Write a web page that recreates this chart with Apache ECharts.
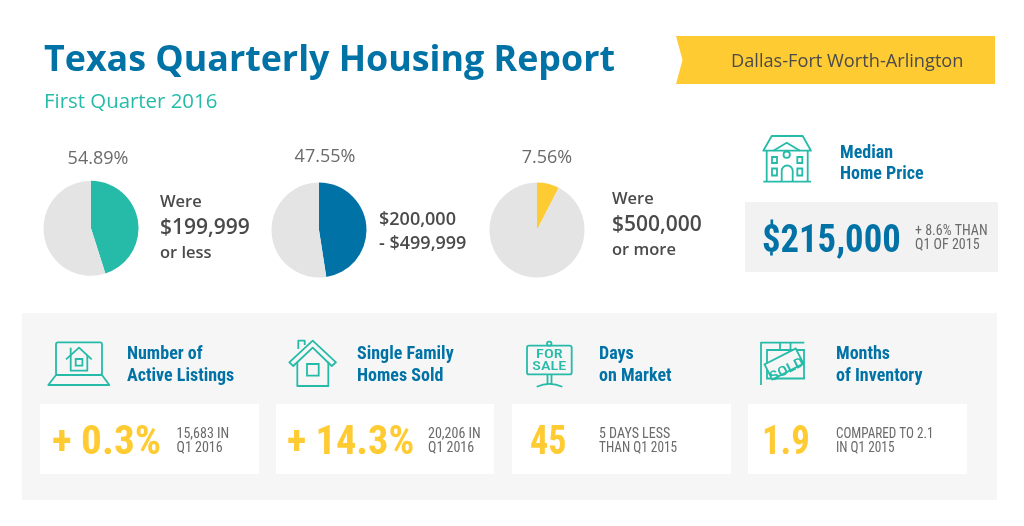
<!DOCTYPE html>
<html><head><meta charset="utf-8">
<style>html,body{margin:0;padding:0;background:#fff}#c{width:1024px;height:526px}</style>
<script src="https://cdn.jsdelivr.net/npm/echarts@6/dist/echarts.min.js"></script>
</head><body><div id="c"></div>
<script>
var title = 'Texas Quarterly Housing Report';
var subtitle = 'First Quarter 2016';
var region = 'Dallas-Fort Worth-Arlington';
var shareLabels = ['54.89%', '47.55%', '7.56%'];
var sliceShares = [45.11, 47.55, 7.56];
var restShares = [54.89, 52.45, 92.44];
var medianPrice = '$215,000';
var bigValues = ['+ 0.3%', '+ 14.3%', '45', '1.9'];
var headingsA = ['Number of', 'Single Family', 'Days', 'Months'];
var headingsB = ['Active Listings', 'Homes Sold', 'on Market', 'of Inventory'];
var notesA = ['15,683 IN', '20,206 IN', '5 DAYS LESS', 'COMPARED TO 2.1'];
var notesB = ['Q1 2016', 'Q1 2016', 'THAN Q1 2015', 'IN Q1 2015'];

var TEAL='#26BBA8', BLUE='#0072A6', YEL='#FFCB33', GREY='#E4E4E4', DARK='#4A4A4A', MID='#6A6A6A';
var OS='"Open Sans"', NAR='"Roboto Condensed",Roboto';

function T(x,y,s,font,size,weight,color,align,sx){
  var k=0.8;
  return {type:'text',x:x,y:y-k*size,scaleX:sx||1,silent:true,style:{text:s,x:0,y:0,font:weight+' '+size+'px '+font,fill:color,textAlign:align||'left',textBaseline:'top'}};
}
function R(x,y,w,h,fill,r){return {type:'rect',silent:true,shape:{x:x,y:y,width:w,height:h,r:r||0},style:{fill:fill}};}
function line(pts,close,lw){return {type:close?'polygon':'polyline',silent:true,shape:{points:pts},style:{fill:'none',stroke:TEAL,lineWidth:lw||1.8,lineJoin:'round'}};}
function box(x,y,w,h,r){return {type:'rect',silent:true,shape:{x:x,y:y,width:w,height:h,r:r||0},style:{fill:'none',stroke:TEAL,lineWidth:1.8}};}

var g=[];
g.push(R(22,313,975,187,'#F6F6F6'));
g.push(R(745,202,253,70,'#F2F2F2'));
[[40,219],[276,218],[512,219],[748,219]].forEach(function(c){g.push(R(c[0],404,c[1],70,'#FFFFFF'));});
g.push({type:'polygon',silent:true,shape:{points:[[676,36],[995,36],[995,84],[676,84],[682.5,60]]},style:{fill:YEL}});

g.push(T(44,71.5,title,OS,35.8,700,BLUE));
g.push(T(44,108.5,subtitle,OS,20.4,400,TEAL));
g.push(T(731,67,region,OS,18.2,400,DARK));

g.push(T(98,164.5,shareLabels[0],OS,18,400,MID,'center'));
g.push(T(325,162.5,shareLabels[1],OS,18,400,MID,'center'));
g.push(T(547,163.5,shareLabels[2],OS,18,400,MID,'center'));

g.push(T(160,207,'Were',OS,16.5,600,DARK));
g.push(T(160,234,'$199,999',OS,21,600,DARK));
g.push(T(160,258,'or less',OS,16.5,600,DARK));
g.push(T(379,225,'$200,000',OS,18,600,DARK));
g.push(T(379,249,'- $499,999',OS,18,600,DARK));
g.push(T(612,204,'Were',OS,16.5,600,DARK));
g.push(T(612,231,'$500,000',OS,21,600,DARK));
g.push(T(612,255,'or more',OS,16.5,600,DARK));

g.push(T(840,158.5,'Median',NAR,18,700,BLUE));
g.push(T(840,179.5,'Home Price',NAR,18,700,BLUE));
g.push(T(762,253.5,medianPrice,NAR,38,700,BLUE,'left',0.965));
g.push(T(915,236,'+ 8.6% THAN',NAR,14,400,MID));
g.push(T(915,250,'Q1 OF 2015',NAR,14,400,MID));

var headX=[127,357,599,836], bigX=[52,287,530,762], noteX=[176.5,428,599,836];
var bigSx=[1.03,1.01,0.9,0.92], noteSxA=[1,1,1,0.94], noteSxB=[1,1,0.95,0.95];
for(var i=0;i<4;i++){
  g.push(T(headX[i],360,headingsA[i],NAR,18,700,BLUE));
  g.push(T(headX[i],381.5,headingsB[i],NAR,18,700,BLUE));
  g.push(T(bigX[i],455.5,bigValues[i],NAR,40,700,YEL,'left',bigSx[i]));
  g.push(T(noteX[i],438.5,notesA[i],NAR,14,400,MID,'left',noteSxA[i]));
  g.push(T(noteX[i],452.5,notesB[i],NAR,14,400,MID,'left',noteSxB[i]));
}

// median house icon
g.push(line([[771.7,136],[802.7,136],[811,150.7],[763.3,150.7]],true));
g.push(line([[766.7,150.7],[766.7,181.7]])); g.push(line([[807.7,150.7],[807.7,181.7]]));
g.push(line([[763.3,181.7],[811,181.7]]));
g.push(line([[773.3,150.7],[786.7,142.7],[800,150.7]]));
g.push({type:'circle',silent:true,shape:{cx:786.7,cy:154.7,r:3.2},style:{fill:'none',stroke:TEAL,lineWidth:1.8}});
g.push({type:'arc',silent:true,shape:{cx:787.2,cy:171,r:5.5,startAngle:Math.PI,endAngle:2*Math.PI,clockwise:true},style:{fill:'none',stroke:TEAL,lineWidth:1.8}});
g.push(line([[781.7,171],[781.7,181.7]])); g.push(line([[792.7,171],[792.7,181.7]]));
g.push(box(772,157,5,6)); g.push(box(797.3,157,5,6)); g.push(box(772,168.5,5,7)); g.push(box(797.3,168.5,5,7));

// laptop
g.push(box(56,342.3,46,32.7,2));
g.push(line([[56,375],[48.3,385],[109.3,385],[102,375]],true));
g.push(line([[66,359.3],[79,347.7],[91.7,359.3]]));
g.push(line([[70.7,355],[70.7,370.7],[87.3,370.7],[87.3,355]]));
g.push(line([[70.7,347.7],[70.7,355]]));
g.push(box(75.7,359,6.7,6.7));

// family home
g.push(line([[312.7,340.7],[336,362.3],[331.7,366],[312.7,347.7],[293.3,366],[289.3,362.3]],true));
g.push(line([[297.3,361.7],[297.3,386],[328.3,386],[328.3,361.7]]));
g.push(box(307,364,11.7,11.7));
g.push(line([[298.3,349],[298.3,340.7],[304.7,340.7],[304.7,345]]));

// for sale
g.push(box(527,345.7,44.7,28.7,2));
g.push(box(547,341.7,4.5,4,2));
g.push(line([[547.5,374.4],[547.5,384]])); g.push(line([[551.5,374.4],[551.5,384]]));
g.push({type:'bezierCurve',silent:true,shape:{x1:536.7,y1:386.7,x2:562.3,y2:386.7,cpx1:549.5,cpy1:381},style:{fill:'none',stroke:TEAL,lineWidth:1.8}});
g.push(T(549.3,358.5,'FOR',NAR,13,500,TEAL,'center',1.25));
g.push(T(549.3,370.5,'SALE',NAR,13,500,TEAL,'center',1.25));

// sold
g.push(line([[761,385],[761,342.7],[804.3,342.7]]));
g.push(line([[780,342.7],[780,350]])); g.push(line([[790.5,342.7],[790.5,350]]));
g.push(box(767,350,37,28.5));
g.push({type:'group',x:784,y:364,rotation:27*Math.PI/180,children:[
  {type:'rect',silent:true,shape:{x:-17.5,y:-8.5,width:35,height:17},style:{fill:'#F6F6F6',stroke:TEAL,lineWidth:1.8}},
  {type:'text',silent:true,scaleX:1.25,style:{text:'SOLD',x:0,y:0,font:'500 13.5px '+NAR,fill:TEAL,textAlign:'center',textBaseline:'middle'}}
]});

function pie(cx,cy,v,rest,color){
  return {type:'pie',silent:true,animation:false,center:[cx,cy],radius:[0,47.5],startAngle:90,clockwise:true,
    label:{show:false},labelLine:{show:false},
    data:[{value:v,itemStyle:{color:color}},{value:rest,itemStyle:{color:GREY}}]};
}
var chart=echarts.init(document.getElementById('c'),null,{renderer:'canvas'});
chart.setOption({animation:false,backgroundColor:'#fff',
  series:[pie(91,228.3,sliceShares[0],restShares[0],TEAL),pie(319,230,sliceShares[1],restShares[1],BLUE),pie(537,230,sliceShares[2],restShares[2],YEL)],
  graphic:{elements:g}
});
</script></body></html>
